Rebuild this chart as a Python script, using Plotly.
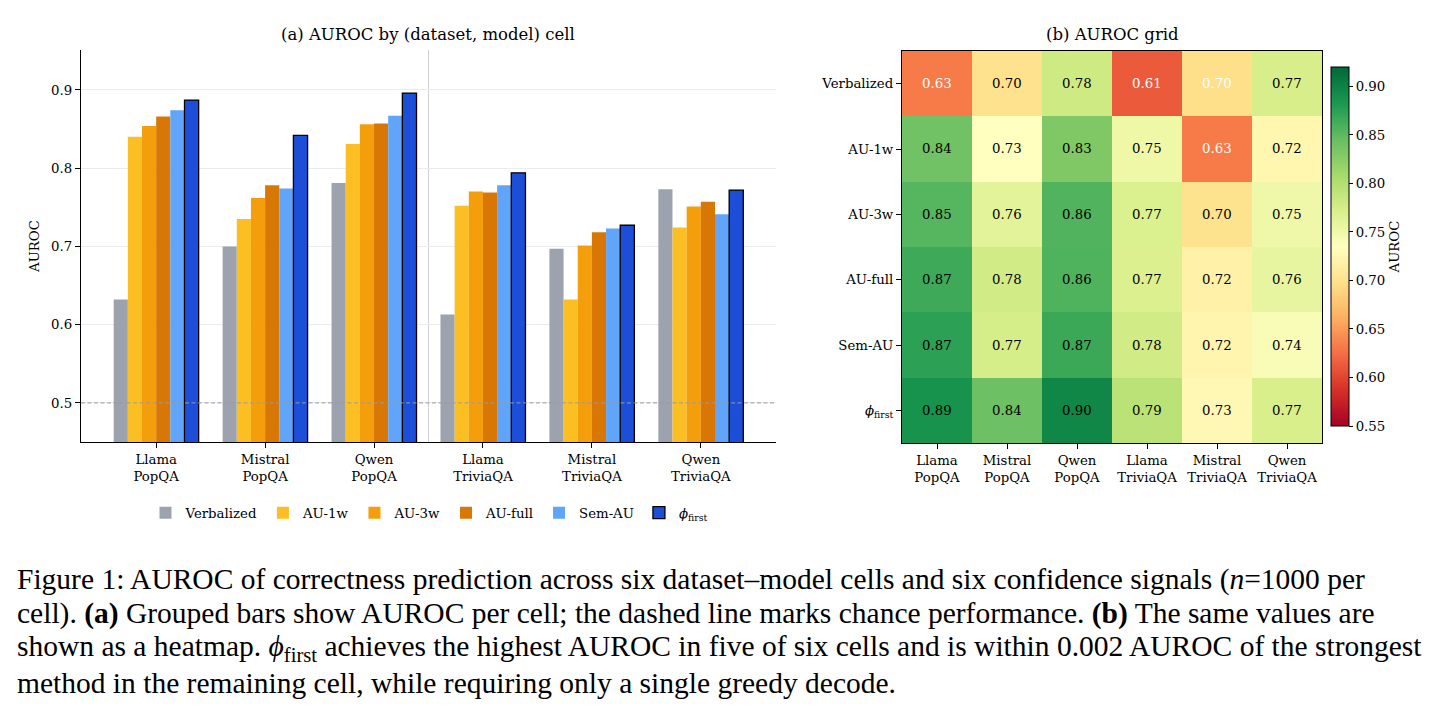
import plotly.graph_objects as go

# ---------------- data ----------------
cells = ["Llama<br>PopQA", "Mistral<br>PopQA", "Qwen<br>PopQA",
         "Llama<br>TriviaQA", "Mistral<br>TriviaQA", "Qwen<br>TriviaQA"]
methods = ["Verbalized", "AU-1w", "AU-3w", "AU-full", "Sem-AU", "<i>ϕ</i><sub>first</sub>"]

verbalized = [0.632, 0.700, 0.781, 0.613, 0.697, 0.773]
au_1w      = [0.840, 0.735, 0.831, 0.752, 0.632, 0.724]
au_3w      = [0.854, 0.762, 0.856, 0.770, 0.701, 0.751]
au_full    = [0.866, 0.778, 0.857, 0.769, 0.718, 0.757]
sem_au     = [0.874, 0.774, 0.867, 0.778, 0.723, 0.741]
phi_first  = [0.887, 0.842, 0.896, 0.794, 0.727, 0.772]

series = [verbalized, au_1w, au_3w, au_full, sem_au, phi_first]
colors = ["#9ca3af", "#fbbf24", "#f59e0b", "#d97706", "#60a5fa", "#1d4ed8"]

CHANCE = 0.5
yticks = [0.5, 0.6, 0.7, 0.8, 0.9]
cbar_ticks = [0.55, 0.60, 0.65, 0.70, 0.75, 0.80, 0.85, 0.90]

caption_lines = [
    "Figure 1: AUROC of correctness prediction across six dataset–model cells and six confidence signals (<i>n</i>=1000 per",
    "cell). <b>(a)</b> Grouped bars show AUROC per cell; the dashed line marks chance performance. <b>(b)</b> The same values are",
    "shown as a heatmap. <i>ϕ</i><sub>first</sub> achieves the highest AUROC in five of six cells and is within 0.002 AUROC of the strongest",
    "method in the remaining cell, while requiring only a single greedy decode.",
]

# ---------------- figure ----------------
W, H = 1435, 713
FONT = "DejaVu Serif"
TS = 13.3
fig = go.Figure()

for name, vals, col in zip(methods, series, colors):
    is_phi = name.startswith("<i>")
    fig.add_trace(go.Bar(
        x=cells, y=vals, name=name, xaxis="x", yaxis="y",
        marker=dict(color=col,
                    line=dict(color="black" if is_phi else col, width=1.3 if is_phi else 0)),
    ))

z = [list(s) for s in series]
fig.add_trace(go.Heatmap(
    z=z, x=cells, y=methods, xaxis="x2", yaxis="y2",
    colorscale="RdYlGn", zmin=0.55, zmax=0.92, showscale=True,
    xgap=0, ygap=0, hoverinfo="skip",
    colorbar=dict(
        x=1331 / W, xanchor="left", y=1 - 246.5 / H, yanchor="middle",
        thickness=18, lenmode="pixels", len=359, ypad=0, xpad=0,
        outlinewidth=1, outlinecolor="black",
        tickvals=cbar_ticks, ticktext=[f"{t:.2f}" for t in cbar_ticks],
        ticks="outside", ticklen=4, tickcolor="black",
        tickfont=dict(family=FONT, size=TS, color="black"),
        title=dict(text="AUROC", side="right", font=dict(family=FONT, size=TS, color="black")),
    ),
    showlegend=False,
))

# heatmap annotations
annotations = []
for i, (m, vals) in enumerate(zip(methods, series)):
    for j, (c, v) in enumerate(zip(cells, vals)):
        annotations.append(dict(
            x=c, y=m, xref="x2", yref="y2", text=f"{v:.2f}", showarrow=False,
            font=dict(family=FONT, size=TS, color="white" if v < 0.70 else "black"),
        ))

# titles
annotations.append(dict(x=428 / W, y=1 - 35 / H, xref="paper", yref="paper",
                        text="(a) AUROC by (dataset, model) cell", showarrow=False,
                        font=dict(family=FONT, size=16.5, color="black"), xanchor="center", yanchor="middle"))
annotations.append(dict(x=1112 / W, y=1 - 35 / H, xref="paper", yref="paper",
                        text="(b) AUROC grid", showarrow=False,
                        font=dict(family=FONT, size=16.5, color="black"), xanchor="center", yanchor="middle"))

# caption
cap_y = [579, 613.5, 648, 682.5]
for line, yy in zip(caption_lines, cap_y):
    annotations.append(dict(x=15 / W, y=1 - yy / H, xref="paper", yref="paper",
                            text=line, showarrow=False, xanchor="left", yanchor="middle",
                            font=dict(family="Liberation Serif, Times New Roman, serif", size=29.5, color="black")))

y_top, y_bot = 1 - 50 / H, 1 - 442 / H
fig.update_layout(
    width=W, height=H, margin=dict(l=0, r=0, t=0, b=0),
    paper_bgcolor="white", plot_bgcolor="white",
    barmode="group", bargap=0.22, bargroupgap=0,
    font=dict(family=FONT, size=TS, color="black"),
    xaxis=dict(domain=[81 / W, 776 / W], anchor="y", type="category",
               range=[-0.69, len(cells) - 1 + 0.69],
               showline=True, linecolor="black", linewidth=1.2,
               ticks="outside", ticklen=5, tickcolor="black", showgrid=False,
               tickfont=dict(family=FONT, size=TS, color="black")),
    yaxis=dict(domain=[y_bot, y_top], anchor="x", range=[0.45, 0.951],
               tickvals=yticks, ticktext=[f"{t:.1f}" for t in yticks],
               showline=True, linecolor="black", linewidth=1.2,
               ticks="outside", ticklen=5, tickcolor="black",
               showgrid=True, gridcolor="#ebebeb", gridwidth=1, zeroline=False,
               title=dict(text="AUROC", font=dict(family=FONT, size=TS, color="black"), standoff=8),
               tickfont=dict(family=FONT, size=TS, color="black")),
    xaxis2=dict(domain=[902 / W, 1322 / W], anchor="y2", type="category",
                showline=True, mirror=True, linecolor="black", linewidth=1.2,
                ticks="outside", ticklen=5, tickcolor="black", showgrid=False,
                tickfont=dict(family=FONT, size=TS, color="black")),
    yaxis2=dict(domain=[1 - 443 / H, 1 - 51 / H], anchor="x2", type="category",
                autorange="reversed",
                showline=True, mirror=True, linecolor="black", linewidth=1.2,
                ticks="outside", ticklen=5, tickcolor="black", showgrid=False,
                tickfont=dict(family=FONT, size=TS, color="black")),
    legend=dict(orientation="h", x=429 / W, xanchor="center", y=1 - 513 / H, yanchor="middle",
                font=dict(family=FONT, size=TS, color="black"), bgcolor="rgba(0,0,0,0)",
                traceorder="normal"),
    annotations=annotations,
)

# chance line and separator between datasets
fig.add_shape(type="line", xref="x domain", yref="y", x0=0, x1=1, y0=CHANCE, y1=CHANCE,
              line=dict(color="#9a9a9a", width=1, dash="4px,2.5px"), layer="above")
fig.add_shape(type="line", xref="x", yref="y domain", x0=len(cells) / 2 - 0.5, x1=len(cells) / 2 - 0.5,
              y0=0, y1=1, line=dict(color="#d0d0d0", width=1), layer="below")

fig.write_html("out.html")
